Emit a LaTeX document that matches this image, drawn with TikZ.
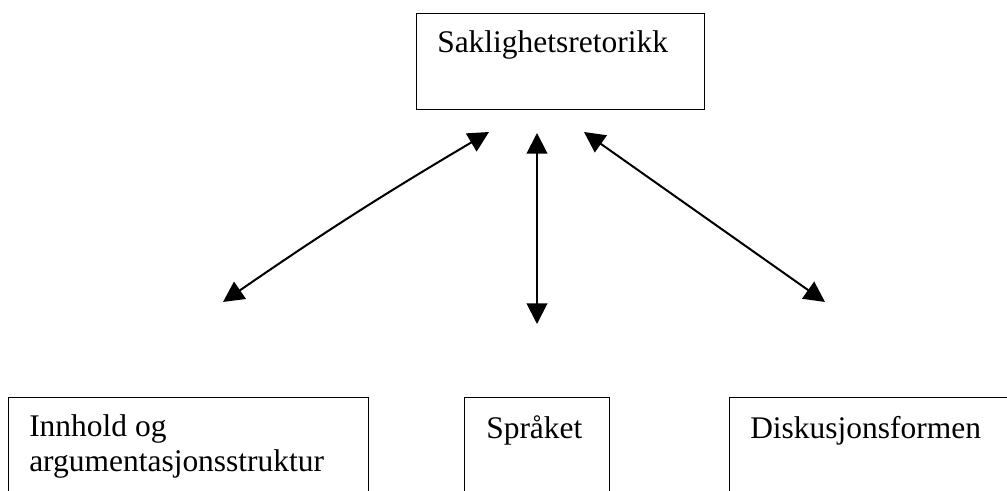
\documentclass[tikz,border=0pt]{standalone}
\usepackage{fontspec}
\setmainfont{Liberation Serif}
\usetikzlibrary{arrows.meta}
\begin{document}
\begin{tikzpicture}[x=0.75pt,y=-0.75pt,
  box/.style={draw, line width=1pt, rectangle, inner sep=0pt, anchor=north west},
  lbl/.style={inner sep=0pt, anchor=base west, font=\fontsize{23.6}{26.25}\selectfont},
  tipend/.tip={Triangle[length=15.5pt,width=15.5pt]},
  link/.style={line width=1.5pt, tipend-tipend}]
\useasboundingbox (0,0) rectangle (1007,491);
\clip (0,0) rectangle (1007,491);
% boxes
\node[box, minimum width=216pt, minimum height=72pt] (top) at (416,13) {};
\node[box, minimum width=270pt, minimum height=97.5pt] (left) at (8,397) {};
\node[box, minimum width=108.75pt, minimum height=97.5pt] (mid) at (464,397) {};
\node[box, minimum width=240.75pt, minimum height=97.5pt] (right) at (729,397) {};
% texts
\node[lbl] (toptext) at (437,53) {Saklighetsretorikk};
\node[lbl] (lefttext) at (29,437) {\parbox[t]{260pt}{Innhold og\\argumentasjonsstruktur}};
\node[lbl] (midtext) at (486,439) {Språket};
\node[lbl] (righttext) at (750,439) {Diskusjonsformen};
% arrow ends
\coordinate (a1) at (489,132);
\coordinate (a2) at (223,302);
\coordinate (b1) at (537,133);
\coordinate (b2) at (537,324);
\coordinate (c1) at (584,132);
\coordinate (c2) at (825,302);
\draw[link] (a1) to[bend right=2] (a2);
\draw[link] (b1) -- (b2);
\draw[link] (c1) -- (c2);
\end{tikzpicture}
\end{document}
